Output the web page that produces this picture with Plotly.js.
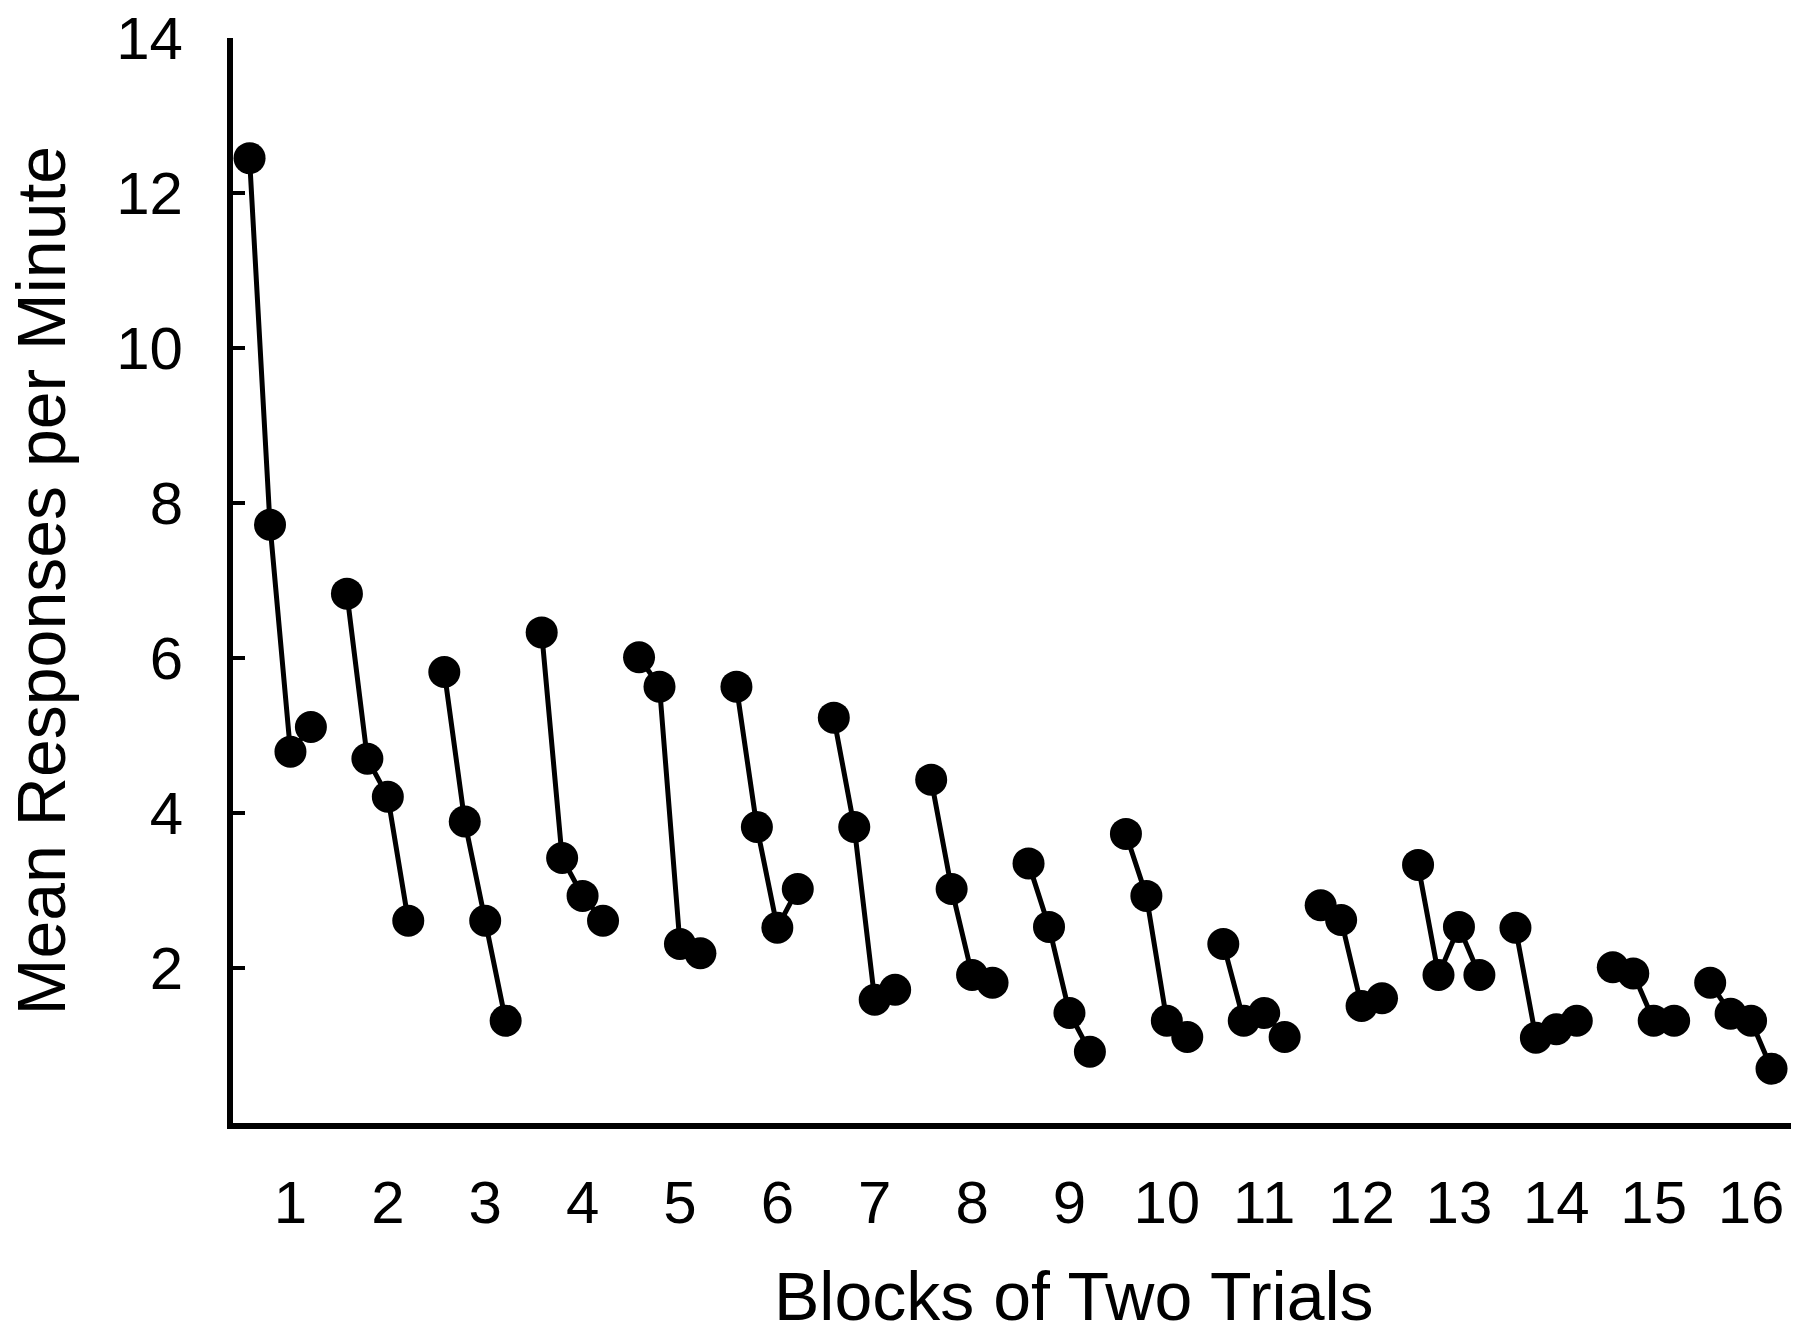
<!DOCTYPE html>
<html>
<head>
<meta charset="utf-8">
<script src="https://cdn.plot.ly/plotly-3.0.1.min.js"></script>
<style>
  html, body { margin: 0; padding: 0; background: #ffffff; }
  #chart { width: 1800px; height: 1338px; }
</style>
</head>
<body>
<div id="chart"></div>
<script>
// Block numbers (x-axis categories)
const blocks = [1, 2, 3, 4, 5, 6, 7, 8, 9, 10, 11, 12, 13, 14, 15, 16];
const blockLabels = ["1", "2", "3", "4", "5", "6", "7", "8", "9", "10", "11", "12", "13", "14", "15", "16"];

// Mean responses per minute for the four trials in each block
const trial1 = [12.45, 6.83, 5.82, 6.33, 6.01, 5.63, 5.23, 4.43, 3.35, 3.73, 2.31, 2.81, 3.33, 2.52, 2.01, 1.81];
const trial2 = [7.72, 4.70, 3.89, 3.42, 5.63, 3.82, 3.82, 3.02, 2.53, 2.93, 1.32, 2.62, 1.91, 1.10, 1.93, 1.41];
const trial3 = [4.79, 4.21, 2.61, 2.93, 2.31, 2.52, 1.59, 1.91, 1.42, 1.32, 1.42, 1.51, 2.53, 1.21, 1.32, 1.32];
const trial4 = [5.11, 2.61, 1.32, 2.61, 2.19, 3.02, 1.72, 1.81, 0.92, 1.11, 1.11, 1.61, 1.91, 1.32, 1.32, 0.70];

// Y-axis tick values
const yTicks = [2, 4, 6, 8, 10, 12, 14];

const xTitle = 'Blocks of Two Trials';
const yTitle = 'Mean Responses per Minute';

const trials = [trial1, trial2, trial3, trial4];
const offsets = [-0.42, -0.21, 0, 0.21];

const traces = blocks.map((b, i) => ({
  type: 'scatter',
  mode: 'lines+markers',
  x: offsets.map(o => b + o),
  y: trials.map(t => t[i]),
  line: { color: '#000000', width: 5 },
  marker: { color: '#000000', size: 32, symbol: 'circle' },
  showlegend: false,
  hoverinfo: 'y'
}));

const font = "'Liberation Sans', Arial, Helvetica, sans-serif";

const layout = {
  width: 1800,
  height: 1338,
  paper_bgcolor: '#ffffff',
  plot_bgcolor: '#ffffff',
  margin: { l: 233, r: 9, t: 38, b: 215 },
  font: { family: font, color: '#000000' },
  showlegend: false,
  xaxis: {
    range: [0.41, 16.41],
    tickvals: blocks,
    ticktext: blockLabels,
    ticks: '',
    ticklabelstandoff: 22,
    tickfont: { family: font, size: 60, color: '#000000' },
    showgrid: false,
    zeroline: false,
    showline: true,
    linecolor: '#000000',
    linewidth: 6
  },
  yaxis: {
    range: [0, 14],
    tickvals: yTicks,
    ticktext: yTicks.map(String),
    ticks: 'inside',
    ticklen: 12,
    tickwidth: 4,
    tickcolor: '#000000',
    ticklabelstandoff: 32,
    tickfont: { family: font, size: 60, color: '#000000' },
    showgrid: false,
    zeroline: false,
    showline: true,
    linecolor: '#000000',
    linewidth: 6,
    title: { text: yTitle, font: { family: font, size: 68, color: '#000000' }, standoff: 30 }
  },
  annotations: [{
    text: xTitle,
    xref: 'paper', yref: 'paper',
    x: 0.540, y: -0.195,
    xanchor: 'center', yanchor: 'bottom',
    borderpad: 0,
    showarrow: false,
    font: { family: font, size: 68, color: '#000000' }
  }]
};

Plotly.newPlot('chart', traces, layout, { displayModeBar: false, staticPlot: true });
</script>
</body>
</html>
